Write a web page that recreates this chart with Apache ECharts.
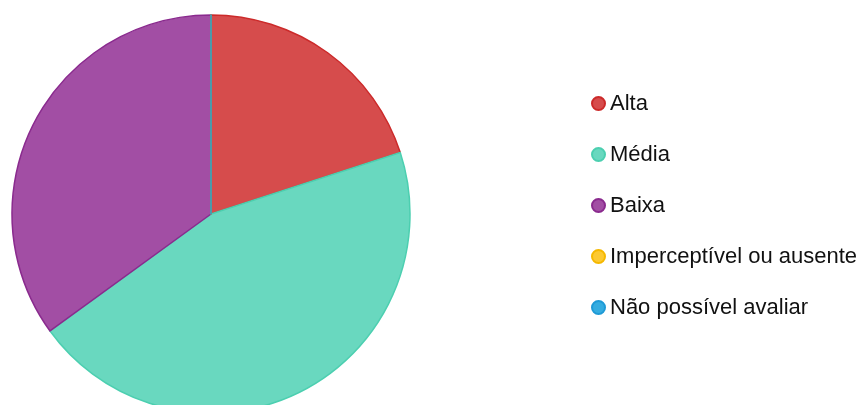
<!DOCTYPE html>
<html>
<head>
<meta charset="utf-8">
<style>
  html, body { margin: 0; padding: 0; background: #ffffff; }
  #chart { width: 865px; height: 405px; }
</style>
<script src="https://cdn.jsdelivr.net/npm/echarts@6/dist/echarts.min.js"></script>
</head>
<body>
<div id="chart"></div>
<script>
// Categories and their shares (percent)
const categories = ['Alta', 'Média', 'Baixa', 'Imperceptível ou ausente', 'Não possível avaliar'];
const values = [20, 45, 35, 0, 0];

// Fill and outline colours per category
const fillColors = ['#d64c4c', '#69d8bf', '#a24ea4', '#fcc932', '#34ace0'];
const borderColors = ['#cc2a2a', '#4ccfb0', '#8a2a8e', '#f5b800', '#1e9ad6'];

const chart = echarts.init(document.getElementById('chart'), null, { renderer: 'canvas' });

const data = categories.map((name, i) => ({
  name: name,
  value: values[i],
  itemStyle: { color: fillColors[i], borderColor: borderColors[i], borderWidth: 1.5 }
}));

chart.setOption({
  animation: false,
  legend: {
    orient: 'vertical',
    left: 586,
    top: 85,
    icon: 'circle',
    itemWidth: 13,
    itemHeight: 13,
    itemGap: 24,
    textStyle: {
      fontFamily: 'Liberation Sans, Arial, sans-serif',
      fontSize: 22,
      color: '#111111',
      lineHeight: 22,
      padding: [0, 0, 5, 0]
    },
    selectedMode: false
  },
  series: [{
    type: 'pie',
    center: [211, 214],
    radius: 199,
    startAngle: 90,
    clockwise: true,
    label: { show: false },
    labelLine: { show: false },
    emphasis: { disabled: true },
    data: data
  }]
});
</script>
</body>
</html>
